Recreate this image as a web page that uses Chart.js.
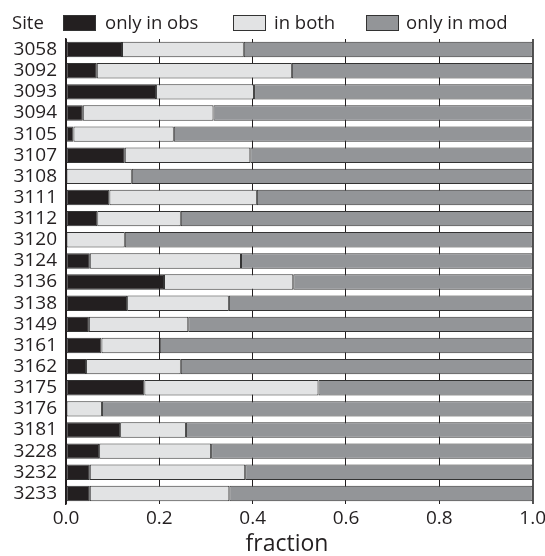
<!DOCTYPE html>
<html><head><meta charset="utf-8">
<script src="https://cdn.jsdelivr.net/npm/chart.js@4.4.0/dist/chart.umd.min.js"></script>
<style>
html,body{margin:0;padding:0;background:#fff;overflow:hidden;}
#wrap{position:relative;width:545px;height:556px;overflow:hidden;font-family:"Open Sans",sans-serif;color:#231f20;}
#c{position:absolute;left:0;top:0;}
.lt{position:absolute;font-size:18.5px;line-height:20px;top:12px;white-space:nowrap;}
.lb{position:absolute;top:15px;width:31px;height:14px;border:1px solid #333;}
#xt{position:absolute;left:187px;width:200px;text-align:center;top:527px;font-size:23px;line-height:31px;}
</style></head>
<body><div id="wrap"><canvas id="c" width="549" height="556"></canvas><div id="xt"></div></div>
<script>
const sites = ["3058","3092","3093","3094","3105","3107","3108","3111","3112","3120","3124","3136","3138","3149","3161","3162","3175","3176","3181","3228","3232","3233"];
const onlyObs = [0.120,0.066,0.193,0.036,0.016,0.126,0.000,0.093,0.067,0.000,0.051,0.210,0.131,0.049,0.076,0.043,0.168,0.000,0.116,0.071,0.051,0.051];
const inBoth  = [0.261,0.418,0.210,0.280,0.215,0.269,0.141,0.316,0.179,0.126,0.324,0.277,0.218,0.213,0.125,0.203,0.373,0.077,0.141,0.240,0.333,0.299];
const onlyMod = [0.619,0.516,0.597,0.684,0.769,0.605,0.859,0.591,0.754,0.874,0.625,0.513,0.651,0.738,0.799,0.754,0.459,0.923,0.743,0.689,0.616,0.650];
const seriesNames = ["only in obs","in both","only in mod"];
const xTicks = [0,0.2,0.4,0.6,0.8,1.0];
const xTitle = "fraction";
const yTitle = "Site";
const colors = ["#231f20","#e2e3e4","#939598"];

// HTML legend and axis titles
const wrap = document.getElementById('wrap');
document.getElementById('xt').textContent = xTitle;
function addText(t,x){const d=document.createElement('div');d.className='lt';d.style.left=x+'px';d.textContent=t;wrap.appendChild(d);}
function addBox(c,x){const d=document.createElement('div');d.className='lb';d.style.left=x+'px';d.style.background=c;wrap.appendChild(d);}
addText(yTitle,12);
const boxX=[63,233,366], txtX=[105,274,406];
seriesNames.forEach((n,i)=>{addBox(colors[i],boxX[i]);addText(n,txtX[i]);});

const vals=[onlyObs,inBoth,onlyMod];
new Chart(document.getElementById('c'),{
  type:'bar',
  data:{labels:sites,datasets:seriesNames.map((n,i)=>({label:n,data:vals[i],backgroundColor:colors[i],borderColor:'#333',borderWidth:1,borderSkipped:false,barPercentage:0.73,categoryPercentage:1}))},
  options:{
    indexAxis:'y',responsive:false,animation:false,
    layout:{padding:{top:39,right:9,left:0,bottom:0}},
    plugins:{legend:{display:false},tooltip:{enabled:false}},
    scales:{
      x:{stacked:true,min:0,max:1,
        afterBuildTicks:(s)=>{s.ticks=xTicks.map(v=>({value:v}));},
        afterFit:(s)=>{s.height=52;},
        ticks:{padding:3,color:'#231f20',font:{family:'"Open Sans"',size:19},callback:(v)=>Number(v).toFixed(1),maxRotation:0},
        grid:{drawTicks:false,lineWidth:(ctx)=>ctx.index===5?2:1,color:(ctx)=>ctx.index===5?'#555':'#231f20'},
        border:{display:false},
        title:{display:false}
      },
      y:{stacked:true,
        afterFit:(s)=>{s.width=66;},
        ticks:{autoSkip:false,padding:9,color:'#231f20',font:{family:'"Open Sans"',size:19}},
        grid:{display:false,drawTicks:false},
        border:{display:true,color:'#231f20',width:1.5}
      }
    }
  }
});
</script></body></html>
